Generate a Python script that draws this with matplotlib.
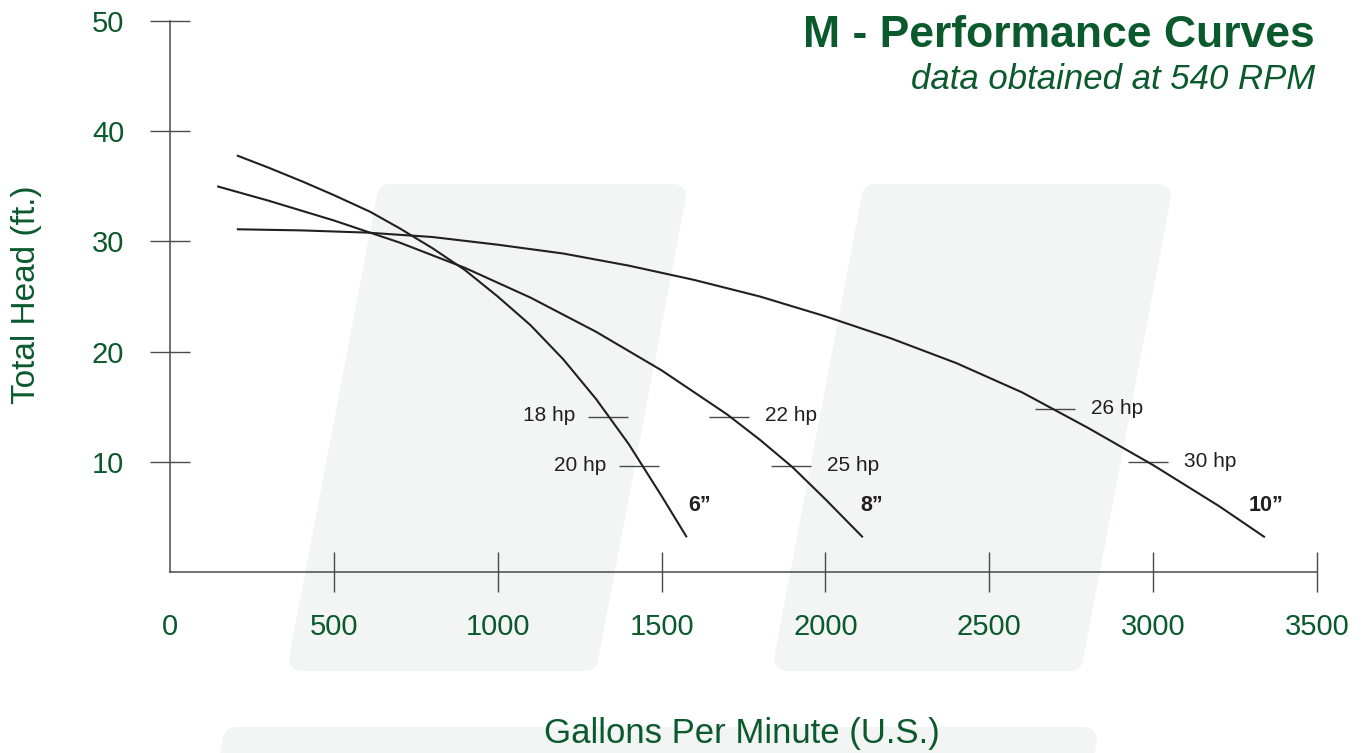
import numpy as np
import matplotlib
matplotlib.use("Agg")
import matplotlib.pyplot as plt
from matplotlib.patches import Polygon

plt.rcParams['font.family'] = ['Liberation Sans', 'DejaVu Sans']

# pump curves (gpm, total head in ft)
gpm_6 = [204, 300, 407, 500, 610, 700, 800, 900, 1000, 1100, 1200, 1300, 1400, 1500, 1577]
head_6 = [37.8, 36.7, 35.4, 34.2, 32.7, 31.2, 29.4, 27.4, 25.0, 22.4, 19.3, 15.7, 11.6, 6.9, 3.15]
gpm_8 = [144, 300, 500, 700, 900, 1100, 1300, 1500, 1700, 1800, 1900, 2000, 2114]
head_8 = [35.0, 33.7, 31.9, 29.9, 27.6, 24.9, 21.8, 18.3, 14.3, 12.0, 9.5, 6.6, 3.15]
gpm_10 = [204, 400, 600, 800, 1000, 1200, 1400, 1600, 1800, 2000, 2200, 2400, 2600,
          2800, 3000, 3200, 3341]
head_10 = [31.1, 31.0, 30.8, 30.4, 29.7, 28.9, 27.8, 26.5, 25.0, 23.2, 21.2, 18.95, 16.3,
           13.1, 9.7, 6.0, 3.15]
sizes = ['6\u201d', '8\u201d', '10\u201d']

# horsepower marks
hp_labels = ['18 hp', '20 hp', '22 hp', '25 hp', '26 hp', '30 hp']
hp_gpm = [1337, 1430, 1706, 1895, 2700, 2984]
hp_head = [14.1, 9.6, 14.1, 9.6, 14.8, 10.0]

xticks = [0, 500, 1000, 1500, 2000, 2500, 3000, 3500]
yticks = [10, 20, 30, 40, 50]

GREEN = '#0b5a2e'
INK = '#231f20'
AXC = '#4a4a4a'
SHADE = '#f3f4f4'

W, H = 1364, 753
fig = plt.figure(figsize=(W / 100, H / 100), dpi=100)


def px(x, y):
    return (x / W, 1 - y / H)


# light slanted background panels (rounded via thick round-joined edge)
r = 12
slope = 0.19
def panel(x_top_left, x_top_right, y_top, y_bot):
    yt, yb = y_top + r, y_bot - r
    dl = slope * (yb - yt)
    pts = [px(x_top_left + r, yt), px(x_top_right - r, yt),
           px(x_top_right - r - dl, yb), px(x_top_left + r - dl, yb)]
    p = Polygon(pts, closed=True, transform=fig.transFigure, facecolor=SHADE,
                edgecolor=SHADE, linewidth=2 * r * 0.72, joinstyle='round', zorder=-5)
    fig.patches.append(p)

panel(377, 686, 184, 671)
panel(862, 1171, 184, 671)
panel(223, 1097, 727, 800)

ax = fig.add_axes([170 / W, (H - 572) / H, 1147 / W, 551 / H])
ax.patch.set_alpha(0)
ax.set_xlim(0, 3500)
ax.set_ylim(0, 50)
for s in ['top', 'right']:
    ax.spines[s].set_visible(False)
for s in ['left', 'bottom']:
    ax.spines[s].set_color(AXC)
    ax.spines[s].set_linewidth(1.1)

ax.set_xticks(xticks)
ax.set_yticks(yticks)
ax.tick_params(axis='both', direction='inout', length=28.8, width=1.0, color=AXC,
               labelcolor=GREEN, labelsize=21)
ax.tick_params(axis='x', pad=15)
ax.tick_params(axis='y', pad=18.5)
ax.xaxis.get_major_ticks()[0].tick1line.set_visible(False)

for g, h in [(gpm_6, head_6), (gpm_8, head_8), (gpm_10, head_10)]:
    ax.plot(g, h, color=INK, lw=1.5, solid_capstyle='butt', zorder=3)

# size labels near curve ends
ends = [(gpm_6[-1], head_6[-1]), (gpm_8[-1], head_8[-1]), (gpm_10[-1], head_10[-1])]
shifts = [(1, 23), (-2, 23), (-12, 23)]
for lab, (ex, ey), (dx, dy) in zip(sizes, ends, shifts):
    ax.annotate(lab, (ex, ey), xytext=(dx, dy), textcoords='offset points',
                ha='left', va='center', fontsize=15.5, fontweight='bold', color=INK)

ax.plot(hp_gpm, hp_head, linestyle='none', marker='_', markersize=28.8,
        markeredgewidth=1.0, color=AXC, zorder=2)
for i, (lab, g, h) in enumerate(zip(hp_labels, hp_gpm, hp_head)):
    if i < 2:
        ax.annotate(lab, (g, h), xytext=(-23.5, 0.5), textcoords='offset points',
                    ha='right', va='center', fontsize=15, color=INK)
    else:
        ax.annotate(lab, (g, h), xytext=(26, 0.5), textcoords='offset points',
                    ha='left', va='center', fontsize=15, color=INK)

fig.text(*px(1315, 47), 'M - Performance Curves', ha='right', va='baseline',
         fontsize=32, fontweight='bold', color=GREEN)
fig.text(*px(1315, 89), 'data obtained at 540 RPM', ha='right', va='baseline',
         fontsize=25, style='italic', color=GREEN)
fig.text(*px(742, 743), 'Gallons Per Minute (U.S.)', ha='center', va='baseline',
         fontsize=25, color=GREEN)
fig.text(*px(27, 295), 'Total Head (ft.)', ha='center', va='center', rotation=90,
         fontsize=24, color=GREEN)

fig.savefig('out.png', dpi=100)
